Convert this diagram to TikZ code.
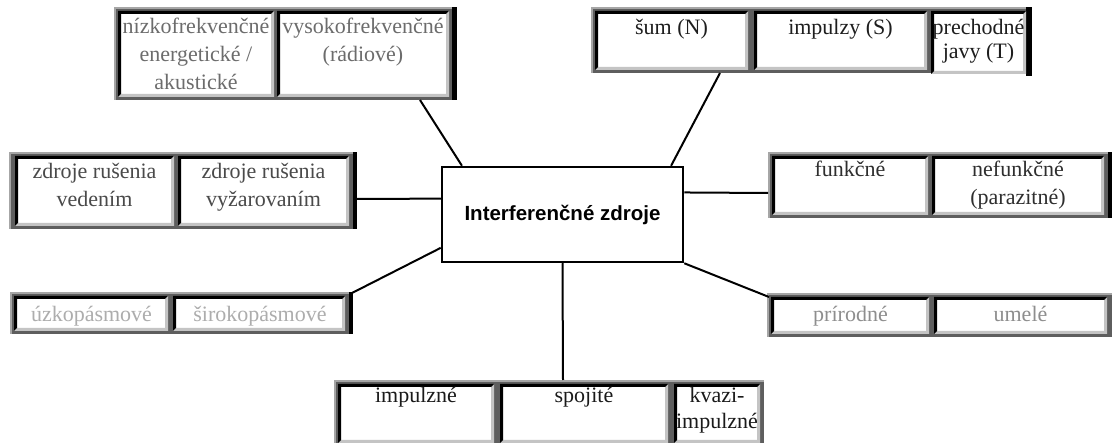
\documentclass[tikz,border=0pt]{standalone}
\usepackage{fontspec}
\setmainfont{Liberation Serif}
\newfontfamily\hubfont{Liberation Sans}
\usetikzlibrary{calc}

\definecolor{framegray}{HTML}{5E5E5E}
\definecolor{rimgray}{HTML}{A6A6A6}
\definecolor{edgelight}{HTML}{C4C4C4}
\definecolor{txtA}{HTML}{6C6C6C}
\definecolor{txtB}{HTML}{1E1E1E}
\definecolor{txtC}{HTML}{4A4A4A}
\definecolor{txtD}{HTML}{2E2E2E}
\definecolor{txtE}{HTML}{ADADAD}
\definecolor{txtF}{HTML}{8E8E8E}
\definecolor{txtG}{HTML}{1A1A1A}

% a grey table frame: name, x1, y1, x2, y2
\newcommand\panel[5]{%
  \node[panelbox, minimum width={#4-#2}, minimum height={#5-#3}]
    (#1) at ({(#2+#4)/2},{(#3+#5)/2}) {};
  \fill[rimgray] (#1.north west) rectangle ($(#1.north east)+(0,2)$);
  \fill[rimgray] (#1.north west) rectangle ($(#1.south west)+(2,0)$);
}
% a sunken white table cell: name, x1, y1, x2, y2
\newcommand\cell[5]{%
  \node[cellbox, minimum width={#4-#2}, minimum height={#5-#3}]
    (#1) at ({(#2+#4)/2},{(#3+#5)/2}) {};
  \fill[edgelight] (#1.south west) -- (#1.south east) -- (#1.north east)
    -- ++(-3,3) -- ($(#1.south east)+(-3,-3)$) -- ($(#1.south west)+(3,-3)$) -- cycle;
  \fill[black] (#1.south west) -- (#1.north west) -- (#1.north east)
    -- ++(-3,3) -- ($(#1.north west)+(3,3)$) -- ($(#1.south west)+(3,-3)$) -- cycle;
}
% cell text: name, x, first baseline, colour, lines
\newcommand\celltext[5]{%
  \node[celltxt, text=#4] (#1) at (#2,#3)
    {\begin{tabular}[t]{@{}c@{}}#5\end{tabular}};
}

\begin{document}
\begin{tikzpicture}[x=1pt,y=-1pt,
  panelbox/.style={fill=framegray, draw=none, inner sep=0pt, outer sep=0pt},
  cellbox/.style={fill=white, draw=none, inner sep=0pt, outer sep=0pt},
  celltxt/.style={anchor=base, inner sep=0pt, outer sep=0pt,
    font=\fontsize{22}{28}\selectfont},
  hub/.style={draw=black, line width=2.5pt, fill=white, inner sep=0pt,
    minimum width=241, minimum height=95,
    font=\hubfont\bfseries\fontsize{20.5}{24}\selectfont},
  link/.style={draw=black, line width=2pt}]

\useasboundingbox (0,0) rectangle (1112,443);
\clip (0,0) rectangle (1112,443);
\fill[white] (0,0) rectangle (1112,443);

% top left: frequency ranges
\panel{tl}{114}{7}{452}{100}
\fill[black] (452,7) rectangle (457,100);
\cell{tlA}{118}{11}{274}{97}
\cell{tlB}{277}{11}{449}{97}
\celltext{tlAt}{196}{34}{txtA}{nízkofrekvenčné\\energetické /\\akustické}
\celltext{tlBt}{363}{34}{txtA}{vysokofrekvenčné\\(rádiové)}

% top right: N, S, T
\panel{tr}{591}{7}{1030}{73}
\fill[black] (1026,7) rectangle (1032,76);
\cell{trA}{595}{11}{748}{70}
\cell{trB}{754}{11}{927}{70}
\cell{trC}{931}{11}{1026}{74}
\celltext{trAt}{671.5}{35}{txtB}{šum (N)}
\celltext{trBt}{840.5}{35}{txtB}{impulzy (S)}
\celltext{trCt}{978.5}{35}{txtB}{prechodné\\[-4pt]javy (T)}

% middle left: conducted / radiated
\panel{ml}{9}{152}{353}{229}
\fill[black] (353,152) rectangle (357,229);
\cell{mlA}{15}{156}{174}{226}
\cell{mlB}{178}{156}{349}{226}
\celltext{mlAt}{94.5}{179}{txtC}{zdroje rušenia\\vedením}
\celltext{mlBt}{263.5}{179}{txtC}{zdroje rušenia\\vyžarovaním}

% middle right: functional / parasitic
\panel{mr}{768}{152}{1108}{218}
\fill[black] (1108,152) rectangle (1112,218);
\cell{mrA}{772}{156}{928}{215}
\cell{mrB}{932}{156}{1104}{215}
\celltext{mrAt}{850}{177}{txtD}{funkčné}
\celltext{mrBt}{1018}{177}{txtD}{nefunkčné\\(parazitné)}

% lower left: bandwidth
\panel{ll}{10}{292}{349}{334}
\fill[black] (349,292) rectangle (353,334);
\cell{llA}{14}{296}{168}{331}
\cell{llB}{173}{296}{345}{331}
\celltext{llAt}{91.5}{322}{txtE}{úzkopásmové}
\celltext{llBt}{260}{322}{txtE}{širokopásmové}

% lower right: natural / man-made
\panel{lr}{767}{293}{1112}{337}
\cell{lrA}{771}{297}{929}{334}
\cell{lrB}{934}{297}{1107}{334}
\celltext{lrAt}{850.5}{322}{txtF}{prírodné}
\celltext{lrBt}{1020.5}{322}{txtF}{umelé}

% bottom: time behaviour
\panel{bt}{334}{380}{764}{450}
\cell{btA}{338}{384}{494}{443}
\cell{btB}{500}{384}{668}{443}
\cell{btC}{674}{384}{760}{443}
\celltext{btAt}{416}{403}{txtG}{impulzné}
\celltext{btBt}{584}{403}{txtG}{spojité}
\celltext{btCt}{717}{403}{txtG}{kvazi-\\[-2pt]impulzné}

% connector end points on the frames
\coordinate (tlFoot) at (420,100);
\coordinate (trFoot) at (720,73);
\coordinate (mlFoot) at (357,199);
\coordinate (mrFoot) at (768,193);
\coordinate (llFoot) at (352,293);
\coordinate (lrFoot) at (769,297);
\coordinate (btHead) at (563,380);

% central node
\node[hub] (hub) at (562.5,214.5) {Interferenčné zdroje};

% connectors
\draw[link] (tlFoot) -- ($(hub.north west)!0.087!(hub.north east)$);
\draw[link] (trFoot) -- ($(hub.north west)!0.946!(hub.north east)$);
\draw[link] (mlFoot) -- ($(hub.north west)!0.337!(hub.south west)$);
\draw[link] (mrFoot) -- ($(hub.north east)!0.274!(hub.south east)$);
\draw[link] (llFoot) -- ($(hub.north west)!0.842!(hub.south west)$);
\draw[link] (lrFoot) -- (hub.south east);
\draw[link] (btHead) -- (hub.south);
\end{tikzpicture}
\end{document}
